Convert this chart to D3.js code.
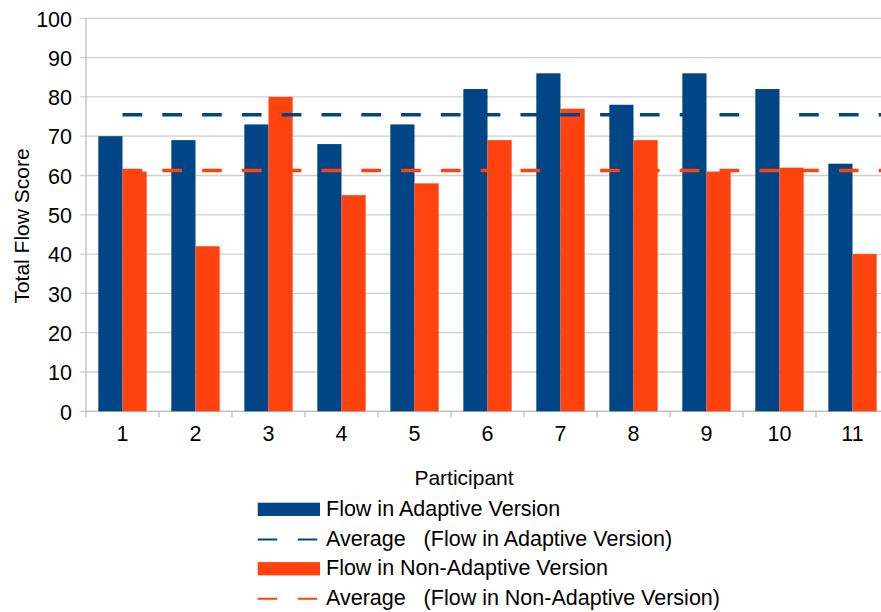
<!DOCTYPE html>
<html>
<head>
<meta charset="utf-8">
<script src="https://cdn.jsdelivr.net/npm/d3@7/dist/d3.min.js"></script>
<style>
  html, body { margin: 0; padding: 0; background: #fff; }
  svg { display: block; font-family: "Liberation Sans", Arial, sans-serif; }
  text { white-space: pre; }
</style>
</head>
<body>
<svg id="chart" width="881" height="612"></svg>
<script>
const participants = ["1","2","3","4","5","6","7","8","9","10","11"];
const adaptive     = [70, 69, 73, 68, 73, 82, 86, 78, 86, 82, 63];
const nonAdaptive  = [61, 42, 80, 55, 58, 69, 77, 69, 61, 62, 40];
const yTicks = [0,10,20,30,40,50,60,70,80,90,100];
const seriesNames = ["Flow in Adaptive Version", "Flow in Non-Adaptive Version"];
const colors = ["#004586", "#ff420e"];

const svg = d3.select("#chart");
const plotL = 86, plotR = 889, plotT = 18.3, plotB = 411.3;

const x = d3.scaleBand().domain(participants).range([plotL, plotR]).paddingInner(0).paddingOuter(0);
const x1 = d3.scaleBand().domain([0,1]).range([0, x.bandwidth()]).paddingInner(0).paddingOuter(0.51);
const y = d3.scaleLinear().domain([0, 100]).range([plotB, plotT]);

// gridlines
svg.append("g").selectAll("line").data(yTicks).join("line")
  .attr("x1", plotL - 6).attr("x2", plotR)
  .attr("y1", d => y(d)).attr("y2", d => y(d))
  .attr("stroke", "#cfcfcf").attr("stroke-width", 1.3);

// y axis labels
const yAxis = d3.axisLeft(y).tickValues(yTicks).tickSize(0).tickPadding(10);
const yg = svg.append("g").attr("transform", `translate(${plotL - 4},0)`).call(yAxis);
yg.select(".domain").remove();
yg.selectAll("text").attr("font-size", 21.5).attr("fill", "#000").attr("font-family", "Liberation Sans, Arial, sans-serif").attr("dy", "0.36em");

// axis lines
svg.append("line").attr("x1", plotL).attr("x2", plotL).attr("y1", plotT).attr("y2", plotB + 6)
  .attr("stroke", "#bdbdbd").attr("stroke-width", 1.3);
svg.append("line").attr("x1", plotL).attr("x2", plotR).attr("y1", plotB).attr("y2", plotB)
  .attr("stroke", "#bdbdbd").attr("stroke-width", 1.3);
// category boundary ticks
svg.append("g").selectAll("line").data(participants).join("line")
  .attr("x1", d => x(d) + x.bandwidth()).attr("x2", d => x(d) + x.bandwidth())
  .attr("y1", plotB).attr("y2", plotB + 6)
  .attr("stroke", "#bdbdbd").attr("stroke-width", 1.3);

// x labels
const xAxis = d3.axisBottom(x).tickSize(0).tickPadding(14);
const xg = svg.append("g").attr("transform", `translate(0,${plotB})`).call(xAxis);
xg.select(".domain").remove();
xg.selectAll("text").attr("font-size", 21.5).attr("fill", "#000").attr("font-family", "Liberation Sans, Arial, sans-serif");

// bars
const seriesData = [adaptive, nonAdaptive];
seriesData.forEach((vals, si) => {
  svg.append("g").selectAll("rect").data(vals).join("rect")
    .attr("x", (d, i) => x(participants[i]) + x1(si))
    .attr("width", x1.bandwidth())
    .attr("y", d => y(d))
    .attr("height", d => y(0) - y(d))
    .attr("fill", colors[si]);
});

// average lines
seriesData.forEach((vals, si) => {
  const avg = d3.mean(vals);
  svg.append("line")
    .attr("x1", x(participants[0]) + x.bandwidth() / 2).attr("x2", plotR)
    .attr("y1", y(avg)).attr("y2", y(avg))
    .attr("stroke", colors[si]).attr("stroke-width", 3.5)
    .attr("stroke-dasharray", "19.7,20.1");
});

// axis titles
svg.append("text").attr("transform", "translate(29,226) rotate(-90)")
  .attr("text-anchor", "middle").attr("font-size", 21).attr("fill", "#000")
  .text("Total Flow Score");
svg.append("text").attr("x", 464).attr("y", 485)
  .attr("text-anchor", "middle").attr("font-size", 21).attr("fill", "#000")
  .text("Participant");

// legend
const legendItems = [
  {type: "rect", color: colors[0], label: seriesNames[0]},
  {type: "line", color: colors[0], label: "Average   (" + seriesNames[0] + ")"},
  {type: "rect", color: colors[1], label: seriesNames[1]},
  {type: "line", color: colors[1], label: "Average   (" + seriesNames[1] + ")"}
];
const lg = svg.append("g");
legendItems.forEach((it, i) => {
  const base = 516 + i * 29.7;
  if (it.type === "rect") {
    lg.append("rect").attr("x", 257.7).attr("y", base - 13.3).attr("width", 62.3).attr("height", 13.3).attr("fill", it.color);
  } else {
    lg.append("line").attr("x1", 257.7).attr("x2", 320).attr("y1", base - 6.3).attr("y2", base - 6.3)
      .attr("stroke", it.color).attr("stroke-width", 2).attr("stroke-dasharray", "19.5,20.5");
  }
  lg.append("text").attr("x", 326).attr("y", base).attr("font-size", 21.5).attr("fill", "#000").text(it.label);
});
</script>
</body>
</html>
